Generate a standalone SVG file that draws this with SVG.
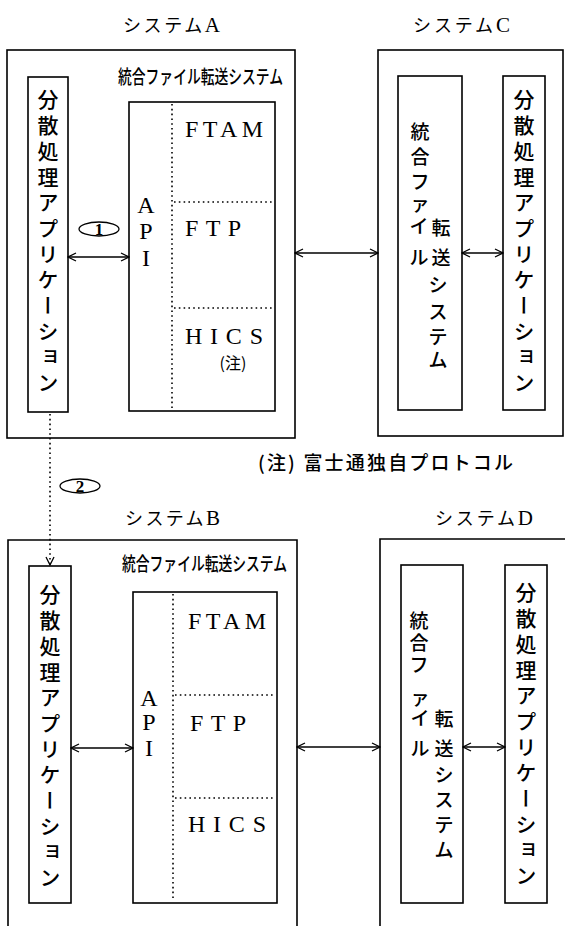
<svg xmlns="http://www.w3.org/2000/svg" width="565" height="926" viewBox="0 0 565 926">
<style>
.box{fill:none;stroke:#000;stroke-width:1.6}
.ln{fill:none;stroke:#000;stroke-width:1.3}
.dot{fill:none;stroke:#000;stroke-width:1.6;stroke-dasharray:1.6 3.2}
.jp{font-family:"Noto Sans CJK JP","Noto Sans CJK SC",sans-serif;fill:#000}
.ser{font-family:"Liberation Serif","Noto Sans CJK JP",serif;fill:#000}
.lt{font-family:"Liberation Serif",serif}
.col{font-family:"Noto Sans CJK JP",sans-serif;font-size:21px;font-weight:500;writing-mode:vertical-rl;letter-spacing:4.7px;fill:#000}
.ch{font-family:"Noto Sans CJK JP",sans-serif;font-size:19px;font-weight:500;text-anchor:middle;dominant-baseline:central;fill:#000}
.lat{font-family:"Liberation Serif",serif;font-size:24px;text-anchor:middle;dominant-baseline:central;fill:#000}
</style>
<defs>
<marker id="arr" markerWidth="10" markerHeight="10" refX="9" refY="5" orient="auto-start-reverse" markerUnits="userSpaceOnUse">
<path d="M1,1 L9,5 L1,9" fill="none" stroke="#000" stroke-width="1.3"/>
</marker>
</defs>

<!-- System A -->
<g id="systemA">
<text class="jp" x="123" y="32" font-size="18" textLength="97" lengthAdjust="spacing">システム<tspan class="lt" font-size="21">A</tspan></text>
<rect class="box" x="7" y="50" width="288" height="388"/>
</g>
<g id="appA">
<rect class="box" x="28" y="77" width="40" height="335"/>
<text class="col" x="48" y="89">分散処理アプリケーション</text>
</g>
<g id="ftsA">
<text class="jp" x="118" y="84" font-size="19" font-weight="500" textLength="165" lengthAdjust="spacingAndGlyphs">統合ファイル転送システム</text>
<rect class="box" x="129" y="102" width="146" height="309"/>
<line class="dot" x1="172" y1="104" x2="172" y2="409"/>
<line class="dot" x1="174" y1="202" x2="273" y2="202"/>
<line class="dot" x1="174" y1="308" x2="273" y2="308"/>
<text class="lat" x="146" y="205">A</text>
<text class="lat" x="146" y="231">P</text>
<text class="lat" x="146" y="258">I</text>
<text class="ser" x="185" y="137" font-size="24" textLength="78" lengthAdjust="spacing">FTAM</text>
<text class="ser" x="185" y="236" font-size="24" textLength="56" lengthAdjust="spacing">FTP</text>
<text class="ser" x="185" y="344" font-size="24" textLength="78" lengthAdjust="spacing">HICS</text>
<text class="jp" x="233" y="362" font-size="16" text-anchor="middle" dominant-baseline="central">(注)</text>
</g>

<!-- System C -->
<g id="systemC">
<text class="jp" x="413" y="32" font-size="18" textLength="97" lengthAdjust="spacing">システム<tspan class="lt" font-size="21">C</tspan></text>
<rect class="box" x="378" y="50" width="185" height="386"/>
</g>
<g id="ftsC">
<rect class="box" x="398" y="76" width="64" height="334"/>
<text class="ch" x="420 420 420 420 419 419" y="130 155 180 202 224 256">統合ファイル</text>
<text class="ch" x="441 441 438 438 438 438" y="226 256 283 310 335 358">転送システム</text>
</g>
<g id="appC">
<rect class="box" x="503" y="76" width="42" height="334"/>
<text class="col" x="524" y="89">分散処理アプリケーション</text>
</g>

<!-- Note -->
<g id="note">
<text class="jp" x="258" y="470" font-size="19" font-weight="500" textLength="255" lengthAdjust="spacing">(注) 富士通独自プロトコル</text>
</g>

<!-- System B -->
<g id="systemB">
<text class="jp" x="125" y="525" font-size="18" textLength="95" lengthAdjust="spacing">システム<tspan class="lt" font-size="21">B</tspan></text>
<path class="box" d="M8,926 V540 H297 V926"/>
</g>
<g id="appB">
<rect class="box" x="29" y="566" width="42" height="337"/>
<text class="col" x="50" y="584">分散処理アプリケーション</text>
</g>
<g id="ftsB">
<text class="jp" x="122" y="571" font-size="19" font-weight="500" textLength="165" lengthAdjust="spacingAndGlyphs">統合ファイル転送システム</text>
<rect class="box" x="133" y="592" width="144" height="311"/>
<line class="dot" x1="173" y1="594" x2="173" y2="901"/>
<line class="dot" x1="175" y1="695" x2="275" y2="695"/>
<line class="dot" x1="175" y1="798" x2="275" y2="798"/>
<text class="lat" x="149" y="698">A</text>
<text class="lat" x="149" y="722">P</text>
<text class="lat" x="149" y="748">I</text>
<text class="ser" x="188" y="629" font-size="24" textLength="78" lengthAdjust="spacing">FTAM</text>
<text class="ser" x="190" y="731" font-size="24" textLength="56" lengthAdjust="spacing">FTP</text>
<text class="ser" x="188" y="832" font-size="24" textLength="78" lengthAdjust="spacing">HICS</text>
</g>

<!-- System D -->
<g id="systemD">
<text class="jp" x="435" y="525" font-size="18" textLength="98" lengthAdjust="spacing">システム<tspan class="lt" font-size="21">D</tspan></text>
<path class="box" d="M380,926 V539 H565"/>
</g>
<g id="ftsD">
<rect class="box" x="401" y="565" width="62" height="338"/>
<text class="ch" x="419 419 419 420 420 420" y="619 641 663 696 716 747">統合ファイル</text>
<text class="ch" x="444 444 444 444 444 444" y="717 747 773 798 823 848">転送システム</text>
</g>
<g id="appD">
<rect class="box" x="505" y="565" width="42" height="338"/>
<text class="col" x="526" y="582">分散処理アプリケーション</text>
</g>

<!-- Connectors -->
<g id="connectors">
<line class="ln" x1="68" y1="257" x2="129" y2="257" marker-start="url(#arr)" marker-end="url(#arr)"/>
<ellipse class="ln" cx="99" cy="229" rx="20" ry="7" stroke-width="1.8"/>
<text class="ser" x="99" y="229" font-size="17" font-weight="bold" text-anchor="middle" dominant-baseline="central">1</text>
<line class="ln" x1="295" y1="253" x2="378" y2="253" marker-start="url(#arr)" marker-end="url(#arr)"/>
<line class="ln" x1="462" y1="253" x2="503" y2="253" marker-start="url(#arr)" marker-end="url(#arr)"/>
<line class="dot" x1="50" y1="414" x2="50" y2="565" marker-end="url(#arr)"/>
<ellipse class="ln" cx="80" cy="486" rx="20" ry="7" stroke-width="1.8"/>
<text class="ser" x="80" y="486" font-size="17" font-weight="bold" text-anchor="middle" dominant-baseline="central">2</text>
<line class="ln" x1="71" y1="748" x2="133" y2="748" marker-start="url(#arr)" marker-end="url(#arr)"/>
<line class="ln" x1="297" y1="747" x2="380" y2="747" marker-start="url(#arr)" marker-end="url(#arr)"/>
<line class="ln" x1="463" y1="747" x2="505" y2="747" marker-start="url(#arr)" marker-end="url(#arr)"/>
</g>
</svg>
